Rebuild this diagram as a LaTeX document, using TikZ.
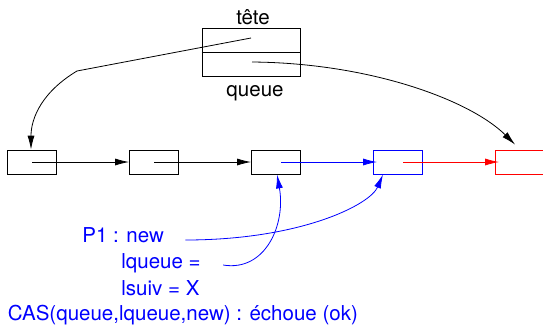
\documentclass[tikz,border=0pt]{standalone}
\usepackage{fontspec}
\setmainfont{TeX Gyre Heros}
\usetikzlibrary{positioning,arrows.meta}

\begin{document}
\begin{tikzpicture}[x=1pt,y=-1pt,line width=.8pt,
 every node/.style={font=\fontsize{20.5}{24}\selectfont,inner sep=0pt},
 cell/.style={rectangle,draw,minimum width=49pt,minimum height=24pt},
 ptr/.style={-{Latex[length=14pt,width=7pt]}}]
\useasboundingbox (0,0) rectangle (543,325);
\node[cell,minimum width=98pt,minimum height=48pt] (T) at (251,52) {};
\draw (T.west) -- (T.east);
\node[anchor=base] (tete) at (253,24) {tête};
\node[anchor=base] (queue) at (255,96) {queue};
\node[cell] (L1) at (32,162) {};
\node[cell] (L2) at (154,162) {};
\node[cell] (L3) at (276,162) {};
\node[cell,blue] (L4) at (398,162) {};
\node[cell,red] (L5) at (520,162) {};
\coordinate (t0) at (251,38);
\coordinate (q0) at (252,62);
\coordinate (k) at (77,71);
\draw[ptr] (t0) -- (k) .. controls (42,92) and (31,118) .. ([xshift=-1pt]L1.north);
\draw[ptr] (q0) .. controls (370,63) and (470,100) .. ([xshift=20pt,yshift=5pt]L5.north west);
\draw[ptr] (L1.center) -- (L2.west);
\draw[ptr] (L2.center) -- (L3.west);
\draw[ptr,blue] ([xshift=5pt]L3.center) -- ([xshift=4pt]L4.west);
\draw[ptr,red] ([xshift=5pt]L4.center) -- ([xshift=4pt]L5.west);
\node[blue,anchor=base west] (p1) at (82,242) {P1 : new};
\node[blue,anchor=base west] (lq) at (121,268.5) {lqueue =};
\node[blue,anchor=base west] (ls) at (121,295) {lsuiv = X};
\node[blue,anchor=base west] (cas) at (7.5,320) {CAS(queue,lqueue,new) : échoue (ok)};
\draw[ptr,blue] ([xshift=22pt,yshift=3.5pt]lq.base east) .. controls (265,272) and (286,225) .. ([xshift=1pt]L3.south);
\draw[ptr,blue] ([xshift=21pt,yshift=2pt]p1.base east) .. controls (300,240) and (370,205) .. ([xshift=-15pt]L4.south);
\end{tikzpicture}
\end{document}
